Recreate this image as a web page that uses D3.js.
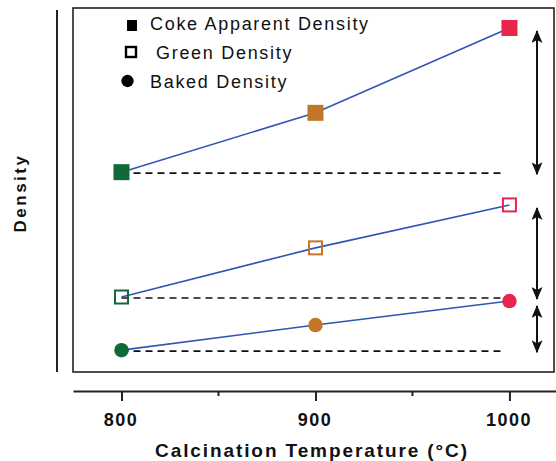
<!DOCTYPE html>
<html>
<head>
<meta charset="utf-8">
<script src="https://cdn.jsdelivr.net/npm/d3@7"></script>
<style>
  body { margin: 0; background: #fff; }
  text { font-family: "Liberation Sans", Arial, sans-serif; }
</style>
</head>
<body>
<svg id="chart" width="556" height="461"></svg>
<script>
// temperatures (°C)
var temps = [800, 900, 1000];
// relative density values (no scale shown on the original, read from positions)
var cokeDensity  = [54.9, 71.2, 94.5];
var greenDensity = [20.6, 34.1, 45.9];
var bakedDensity = [6.0, 12.9, 19.5];
var pointColors = ["#0f6a35", "#c47628", "#e8254f"];
var seriesNames = ["Coke Apparent Density", "Green Density", "Baked Density"];
var majorTicks = [800, 900, 1000];
var minorTicks = [850, 950];

var svg = d3.select("#chart");

var x = d3.scaleLinear().domain([775, 1024]).range([73, 556]);
var y = d3.scaleLinear().domain([0, 100]).range([372, 8]);

// y axis line (no ticks)
svg.append("line")
  .attr("x1", 57).attr("x2", 57)
  .attr("y1", 10).attr("y2", 372)
  .attr("stroke", "#222").attr("stroke-width", 2);

// plot frame
svg.append("rect")
  .attr("x", 73).attr("y", 8)
  .attr("width", 481).attr("height", 364)
  .attr("fill", "none")
  .attr("stroke", "#222").attr("stroke-width", 1.6);

// x axis
var xAxis = svg.append("g")
  .attr("transform", "translate(0,391)")
  .call(d3.axisBottom(x).tickValues(majorTicks).tickSize(10).tickSizeOuter(0).tickFormat(d3.format("d")));
xAxis.select(".domain").attr("stroke", "#222").attr("stroke-width", 2);
xAxis.selectAll(".tick line").attr("stroke", "#222").attr("stroke-width", 2);
xAxis.selectAll(".tick text")
  .attr("dy", 0).attr("y", 35)
  .attr("dx", -1)
  .attr("fill", "#111")
  .style("font-family", "'Liberation Sans', Arial, sans-serif")
  .style("font-size", "18px").style("font-weight", "bold")
  .style("letter-spacing", "1.5px");

svg.append("g")
  .selectAll("line")
  .data(minorTicks)
  .enter().append("line")
  .attr("x1", function(d) { return x(d); })
  .attr("x2", function(d) { return x(d); })
  .attr("y1", 391).attr("y2", 396)
  .attr("stroke", "#222").attr("stroke-width", 2);

// axis titles
svg.append("text")
  .attr("x", 312).attr("y", 457)
  .attr("text-anchor", "middle")
  .style("font-size", "19px").style("font-weight", "bold")
  .style("letter-spacing", "1.9px")
  .attr("fill", "#111")
  .text("Calcination Temperature (°C)");

svg.append("text")
  .attr("transform", "translate(26,193)rotate(-90)")
  .attr("text-anchor", "middle")
  .style("font-size", "17px").style("font-weight", "bold")
  .style("letter-spacing", "2.5px")
  .attr("fill", "#111")
  .text("Density");

// dashed reference lines at the 800 °C level
var baseLevels = [cokeDensity[0], greenDensity[0], bakedDensity[0]];
svg.append("g")
  .selectAll("line")
  .data(baseLevels)
  .enter().append("line")
  .attr("x1", x(800)).attr("x2", x(1000) - 9)
  .attr("y1", function(d) { return y(d) + 1; })
  .attr("y2", function(d) { return y(d) + 1; })
  .attr("stroke", "#111").attr("stroke-width", 1.6)
  .attr("stroke-dasharray", "7,5");

// blue connecting lines
var line = d3.line()
  .x(function(d, i) { return x(temps[i]); })
  .y(function(d) { return y(d); });

[cokeDensity, greenDensity, bakedDensity].forEach(function(s) {
  svg.append("path")
    .datum(s)
    .attr("d", line)
    .attr("fill", "none")
    .attr("stroke", "#2f55b5")
    .attr("stroke-width", 1.6);
});

// markers
svg.append("g").selectAll("rect")
  .data(cokeDensity)
  .enter().append("rect")
  .attr("x", function(d, i) { return x(temps[i]) - 8; })
  .attr("y", function(d) { return y(d) - 8; })
  .attr("width", 16).attr("height", 16)
  .attr("fill", function(d, i) { return pointColors[i]; });

svg.append("g").selectAll("rect")
  .data(greenDensity)
  .enter().append("rect")
  .attr("x", function(d, i) { return x(temps[i]) - 6.5; })
  .attr("y", function(d) { return y(d) - 6.5; })
  .attr("width", 13).attr("height", 13)
  .attr("fill", "none")
  .attr("stroke-width", 2)
  .attr("stroke", function(d, i) { return pointColors[i]; });

var gear = d3.symbol().type(d3.symbolCircle).size(165);
svg.append("g").selectAll("path")
  .data(bakedDensity)
  .enter().append("path")
  .attr("d", gear)
  .attr("transform", function(d, i) { return "translate(" + x(temps[i]) + "," + y(d) + ")"; })
  .attr("fill", function(d, i) { return pointColors[i]; });

// double-headed arrows showing the 800 -> 1000 °C rise
svg.append("defs").append("marker")
  .attr("id", "head")
  .attr("viewBox", "0 0 13 11")
  .attr("refX", 12).attr("refY", 5.5)
  .attr("markerWidth", 13).attr("markerHeight", 11)
  .attr("markerUnits", "userSpaceOnUse")
  .attr("orient", "auto-start-reverse")
  .append("path")
  .attr("d", "M0,0 L13,5.5 L0,11 L3,5.5 Z")
  .attr("fill", "#111");

var spans = [
  [cokeDensity[2], cokeDensity[0]],
  [greenDensity[2], greenDensity[0]],
  [bakedDensity[2], bakedDensity[0]]
];
svg.append("g").selectAll("line")
  .data(spans)
  .enter().append("line")
  .attr("x1", 537).attr("x2", 537)
  .attr("y1", function(d, i) { return y(d[0]) + (i == 2 ? 5 : 3); })
  .attr("y2", function(d, i) { return y(d[1]) + 2; })
  .attr("stroke", "#111").attr("stroke-width", 2)
  .attr("marker-start", "url(#head)")
  .attr("marker-end", "url(#head)");

// legend
var legend = svg.append("g");
legend.append("rect").attr("x", 127).attr("y", 20).attr("width", 10).attr("height", 11).attr("fill", "#000");
legend.append("rect").attr("x", 126).attr("y", 47).attr("width", 10).attr("height", 10)
  .attr("fill", "none").attr("stroke", "#000").attr("stroke-width", 2.4);
legend.append("path").attr("d", d3.symbol().type(d3.symbolCircle).size(120))
  .attr("transform", "translate(127.5,81)").attr("fill", "#000");

var legendX = [150, 156, 150];
var legendY = [30, 59, 88];
legend.selectAll("text")
  .data(seriesNames)
  .enter().append("text")
  .attr("x", function(d, i) { return legendX[i]; })
  .attr("y", function(d, i) { return legendY[i]; })
  .style("font-size", "18px")
  .style("letter-spacing", "1.7px")
  .attr("fill", "#111")
  .text(function(d) { return d; });
</script>
</body>
</html>
